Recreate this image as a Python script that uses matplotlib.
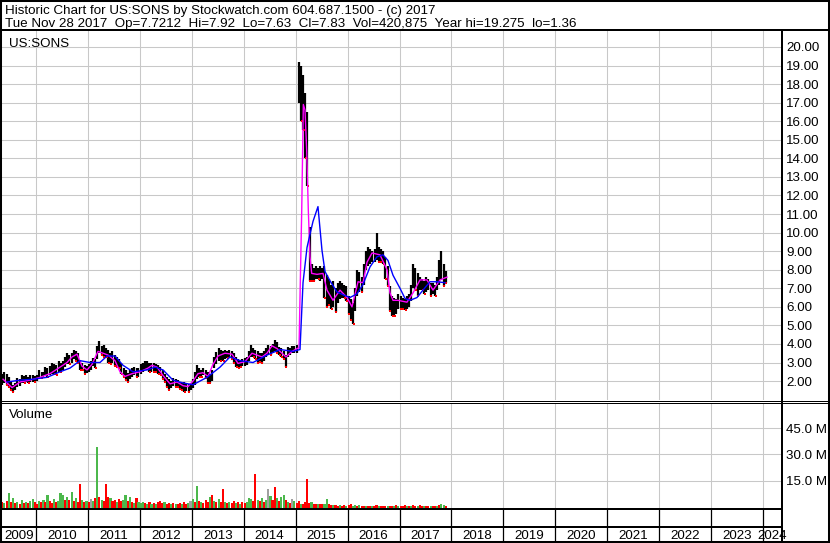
import matplotlib
matplotlib.use("Agg")
import matplotlib.pyplot as plt
from matplotlib.lines import Line2D
from matplotlib.patches import Rectangle
import numpy as np
import pandas as pd

plt.rcParams['font.family'] = ['Liberation Sans', 'DejaVu Sans']

# ---- values (semi-monthly bars from May 2009) ----
bar_start = '2009-05-01'

price_hi = [
    2.4, 2.5, 2.4, 2.2, 1.95, 1.8, 1.9, 2.15, 2.1, 2.3, 2.25, 2.3, 2.2, 2.3, 2.3, 2.25,  # 2009
    2.3, 2.6, 2.5, 2.5, 2.75, 2.7, 2.8, 2.95, 2.9, 2.85, 3.1, 3.0, 3.1, 3.3, 3.5, 3.4, 3.5, 3.7, 3.6, 3.5, 3.1, 3.0, 2.85, 2.8,  # 2010
    2.9, 3.1, 3.25, 3.2, 3.9, 4.15, 3.9, 3.95, 3.8, 3.65, 3.5, 3.6, 3.4, 3.3, 3.2, 2.95, 2.7, 2.6, 2.45, 2.6, 2.7, 2.75, 2.7, 2.7,  # 2011
    2.9, 3.0, 3.1, 3.1, 3.0, 3.0, 2.95, 2.9, 2.85, 2.75, 2.6, 2.4, 2.2, 2.1, 2.0, 2.15, 2.1, 2.05, 1.95, 1.9, 1.95, 1.9, 1.85, 1.9,  # 2012
    2.1, 2.5, 2.85, 2.7, 2.6, 2.7, 2.6, 2.5, 2.4, 2.6, 3.3, 3.55, 3.8, 3.7, 3.6, 3.7, 3.6, 3.7, 3.6, 3.5, 3.3, 3.2, 3.1, 3.2,  # 2013
    3.25, 3.3, 3.6, 3.95, 3.8, 3.7, 3.6, 3.5, 3.5, 3.6, 3.8, 3.95, 3.9, 4.0, 4.2, 4.1, 3.85, 3.8, 3.6, 3.4, 3.85, 3.8, 3.9, 3.9,  # 2014
    3.95, 19.2, 19.0, 18.5, 17.5, 16.5, 10.3, 8.3, 8.1, 8.2, 8.1, 8.2, 8.1, 8.2, 7.7, 7.5, 7.2, 7.4, 7.0, 7.3, 7.4, 7.3, 7.2, 7.1,  # 2015
    6.6, 6.4, 6.2, 7.0, 8.0, 7.9, 7.6, 8.3, 9.0, 9.2, 9.1, 9.0, 9.1, 10.0, 9.2, 9.1, 9.0, 8.7, 8.2, 7.1, 6.6, 6.5, 6.4, 6.7,  # 2016
    6.6, 6.5, 6.4, 6.6, 6.7, 7.2, 8.3, 8.1, 7.8, 7.6, 7.5, 7.4, 7.6, 7.5, 7.3, 7.3, 7.2, 7.6, 8.5, 9.0, 8.3, 7.95,  # 2017
]
price_lo = [
    1.8, 1.9, 1.8, 1.7, 1.5, 1.4, 1.5, 1.7, 1.75, 1.9, 1.9, 1.95, 1.9, 1.95, 1.95, 1.95,
    2.0, 2.1, 2.15, 2.2, 2.3, 2.2, 2.3, 2.4, 2.4, 2.3, 2.5, 2.5, 2.6, 2.75, 2.9, 2.9, 3.0, 3.2, 3.1, 3.0, 2.6, 2.6, 2.4, 2.45,
    2.5, 2.6, 2.8, 2.7, 3.2, 3.5, 3.4, 3.3, 3.3, 3.0, 2.9, 3.0, 2.8, 2.75, 2.7, 2.4, 2.2, 2.05, 1.95, 2.1, 2.2, 2.3, 2.2, 2.2,
    2.4, 2.5, 2.6, 2.6, 2.5, 2.5, 2.5, 2.5, 2.4, 2.3, 2.1, 1.95, 1.7, 1.5, 1.6, 1.75, 1.7, 1.7, 1.55, 1.5, 1.4, 1.45, 1.4, 1.5,
    1.6, 1.8, 2.1, 2.2, 2.2, 2.3, 2.15, 1.9, 1.9, 2.0, 2.7, 2.9, 3.1, 3.1, 3.1, 3.2, 3.25, 3.3, 3.2, 3.0, 2.75, 2.7, 2.75, 2.8,
    2.8, 2.85, 3.1, 3.3, 3.3, 3.2, 3.0, 3.05, 3.0, 3.1, 3.3, 3.4, 3.4, 3.5, 3.6, 3.5, 3.4, 3.3, 3.2, 2.75, 3.3, 3.4, 3.5, 3.5,
    3.5, 17.0, 16.0, 15.5, 14.0, 12.5, 7.4, 7.4, 7.4, 7.5, 7.5, 7.4, 7.5, 6.5, 6.0, 6.1, 5.9, 6.0, 5.7, 6.2, 6.4, 6.5, 6.5, 6.3,
    5.6, 5.3, 5.1, 5.8, 6.6, 6.8, 6.8, 7.2, 8.0, 8.2, 8.3, 8.4, 8.4, 8.5, 8.4, 8.4, 8.3, 7.5, 7.1, 5.8, 5.5, 5.5, 5.6, 5.9,
    5.9, 5.9, 5.85, 5.9, 6.0, 6.3, 7.0, 6.9, 6.6, 6.9, 6.9, 6.7, 6.8, 6.9, 6.6, 6.7, 6.6, 6.9, 7.2, 7.5, 7.1, 7.3,
]

# volume in millions, colour code: r = down, g = up, k = unchanged
vol_m = [
    3.0, 2.5, 3.5, 8.0, 3.0, 5.0, 2.5, 3.0, 2.0, 4.0, 2.5, 3.0, 2.5, 3.5, 4.5, 3.0,
    2.0, 3.5, 3.0, 4.0, 3.0, 6.8, 3.5, 2.5, 4.5, 3.0, 3.5, 8.0, 6.8, 4.0, 5.5, 4.0, 8.7, 3.5, 5.0, 3.0, 13.0, 4.0, 3.0, 3.5,
    3.0, 4.5, 3.5, 5.0, 34.0, 6.0, 4.0, 3.5, 13.0, 6.0, 5.0, 3.5, 4.0, 3.0, 4.5, 3.5, 4.0, 7.0, 3.5, 6.0, 3.0, 2.5, 5.0, 3.0,
    2.5, 3.0, 2.5, 2.0, 3.0, 2.0, 2.5, 2.0, 3.0, 3.5, 2.5, 3.0, 2.0, 2.5, 2.0, 2.5, 2.0, 1.5, 2.5, 2.0, 3.0, 2.0, 2.5, 3.5,
    4.5, 3.0, 12.0, 3.5, 3.0, 2.5, 4.0, 3.0, 5.5, 6.8, 3.5, 3.0, 4.5, 3.0, 10.3, 3.0, 2.5, 3.0, 2.5, 3.5, 2.5, 3.0, 2.0, 3.0,
    2.5, 3.0, 5.0, 4.5, 3.5, 18.8, 4.0, 3.5, 5.0, 3.0, 4.0, 10.3, 6.5, 4.0, 11.4, 5.0, 3.5, 6.0, 6.8, 4.0, 3.0, 2.5, 4.5, 3.5,
    2.5, 3.5, 2.0, 2.0, 3.0, 16.0, 2.5, 3.0, 2.0, 2.0, 1.5, 2.0, 1.5, 2.0, 4.5, 1.5, 1.2, 1.0, 1.0, 0.8, 1.0, 0.8, 1.0, 0.8,
    1.0, 1.5, 0.8, 1.0, 0.8, 1.2, 0.6, 0.8, 0.7, 0.6, 0.8, 0.5, 0.7, 0.9, 0.6, 0.5, 0.6, 0.7, 0.6, 0.5, 0.7, 0.8, 1.0, 0.6,
    0.8, 0.6, 0.9, 0.6, 0.7, 0.8, 1.0, 0.7, 0.6, 0.9, 0.6, 0.7, 0.5, 0.6, 0.7, 0.6, 0.5, 0.7, 1.0, 1.5, 1.0, 0.6,
]
vol_col = ("rgrgrgrgrgrgrggr"
           "rgrgrgrrgrgggrgrgrgrrgrg"
           "rkgrgrgrrrgrrgrrggrgrgrg"
           "ggrgrgrgrrrgrrgrgrrgrrgk"
           "grgrgrrrgrgrgrrgrgrrgrgr"
           "rgggrrgrgrgkgrrgrggrgrkg"
           "rrgrrrrgrrgrrggrrgrrgrrg"
           "rrggrgrrgrrgrrgrrrgrrgrg"
           "rrrgrgrrgrrgrrgrrgrggr")

# short moving average (magenta), read as points
fast_t = [2009.365, 2009.538, 2009.692, 2009.884, 2010.077, 2010.270, 2010.462, 2010.597, 2010.693, 2010.790,
          2010.886, 2010.982, 2011.078, 2011.194, 2011.290, 2011.387, 2011.521, 2011.618, 2011.714, 2011.849,
          2012.003, 2012.157, 2012.234, 2012.330, 2012.446, 2012.581, 2012.715, 2012.831, 2012.927, 2013.023,
          2013.120, 2013.216, 2013.312, 2013.408, 2013.505, 2013.639, 2013.774, 2013.890, 2014.025, 2014.159,
          2014.255, 2014.352, 2014.448, 2014.545, 2014.641, 2014.737, 2014.814, 2014.930, 2015.065, 2015.117,
          2015.148, 2015.180, 2015.213, 2015.244, 2015.276, 2015.309, 2015.411, 2015.527, 2015.604, 2015.719,
          2015.854, 2015.989, 2016.085, 2016.201, 2016.297, 2016.374, 2016.470, 2016.624, 2016.759, 2016.817,
          2016.875, 2016.971, 2017.144, 2017.260, 2017.395, 2017.529, 2017.645, 2017.780, 2017.915]
fast_v = [2.1, 1.65, 1.95, 2.05, 2.2, 2.4, 2.75, 3.0, 3.3, 3.45,
          2.8, 2.6, 2.9, 3.6, 3.5, 3.4, 3.1, 2.5, 2.25, 2.4,
          2.5, 2.7, 2.85, 2.75, 2.3, 1.85, 1.95, 1.75, 1.7, 2.0,
          2.4, 2.45, 2.25, 2.9, 3.35, 3.5, 3.45, 2.95, 3.05, 3.5,
          3.4, 3.3, 3.5, 3.9, 3.75, 3.5, 3.3, 3.6, 3.8, 11.2,
          16.9, 16.6, 14.4, 11.2, 8.7, 7.8, 7.75, 7.8, 6.9, 6.35,
          6.9, 6.5, 6.0, 7.35, 7.3, 8.4, 8.9, 8.8, 8.0, 6.75,
          6.35, 6.35, 6.25, 6.75, 7.45, 7.45, 6.9, 7.45, 7.6]

# long moving average (blue)
slow_t = [2009.442, 2009.692, 2009.942, 2010.212, 2010.462, 2010.655, 2010.847, 2011.040, 2011.232, 2011.367,
          2011.521, 2011.675, 2011.868, 2012.137, 2012.292, 2012.446, 2012.638, 2012.831, 2013.023, 2013.293,
          2013.543, 2013.736, 2013.928, 2014.179, 2014.448, 2014.699, 2014.949, 2015.084, 2015.142, 2015.219,
          2015.276, 2015.334, 2015.430, 2015.507, 2015.565, 2015.662, 2015.796, 2015.912, 2016.046, 2016.181,
          2016.297, 2016.432, 2016.567, 2016.682, 2016.778, 2016.875, 2017.009, 2017.106, 2017.202, 2017.337,
          2017.452, 2017.587, 2017.722, 2017.876]
slow_v = [1.95, 2.05, 2.1, 2.2, 2.5, 2.7, 3.1, 3.0, 3.0, 3.35,
          3.35, 2.85, 2.5, 2.6, 2.75, 2.6, 2.05, 1.9, 1.8, 2.2,
          2.75, 3.3, 3.1, 3.0, 3.4, 3.7, 3.6, 3.7, 7.3, 9.2,
          9.9, 10.6, 11.4, 9.05, 7.9, 7.4, 6.8, 6.65, 6.5, 6.7,
          7.2, 8.15, 8.7, 8.8, 8.5, 7.7, 7.0, 6.45, 6.35, 6.5,
          6.9, 7.35, 7.35, 7.3]

years = list(range(2009, 2025))
price_ticks = list(range(2, 21))
vol_ticks = [15, 30, 45]
ticker = "US:SONS"
header1 = "Historic Chart for US:SONS by Stockwatch.com 604.687.1500 - (c) 2017"
header2 = "Tue Nov 28 2017  Op=7.7212  Hi=7.92  Lo=7.63  Cl=7.83  Vol=420,875  Year hi=19.275  lo=1.36"

# ---- layout ----
W, H = 830, 543
t0, t1 = 2009.345, 2024.366      # visible time window
vol_floor, vol_top = -1.1, 59.3
grid_c = '#c8c8c8'
col_map = {'r': '#ff0000', 'g': '#4cb84c', 'k': '#a0a0a0'}
fs = 9.6

dates = pd.date_range(bar_start, periods=len(price_hi), freq='SMS')
t = np.asarray(dates.year + (dates.dayofyear - 1) / 365.25) + 1 / 48
hi = np.array(price_hi)
lo = np.array(price_lo)

fig = plt.figure(figsize=(W / 100, H / 100), dpi=100)


def box(x0, y0, x1, y1):
    return [x0 / W, 1 - y1 / H, (x1 - x0) / W, (y1 - y0) / H]


def fline(xs, ys, px=1):
    fig.add_artist(Line2D([x / W for x in xs], [1 - y / H for y in ys], color='black',
                          lw=px * 0.72, transform=fig.transFigure, solid_capstyle='butt'))


# price panel
axp = fig.add_axes(box(2, 31, 782, 400))
axp.set_xlim(t0, t1)
axp.set_ylim(0.98, 20.86)
axp.set_xticks(years[1:])
axp.set_yticks(price_ticks)
axp.set_yticklabels([f'{v:.2f}' for v in price_ticks])
axp.yaxis.tick_right()
axp.tick_params(axis='both', length=0, labelsize=fs, pad=3.2)
axp.tick_params(axis='x', labelbottom=False)
axp.grid(True, color=grid_c, lw=0.75)
axp.set_axisbelow(True)
for s in axp.spines.values():
    s.set_visible(False)

axp.vlines(t, lo, hi, color='black', lw=1.6)
down = np.r_[False, (hi + lo)[1:] < (hi + lo)[:-1]]
axp.scatter(t[down] + 1 / 96, lo[down], marker='s', s=3, color='red', lw=0, zorder=3)
axp.plot(fast_t, fast_v, color='#ff00ff', lw=1.0, zorder=4)
axp.plot(slow_t, slow_v, color='#0000ff', lw=1.0, zorder=5)

# volume panel
axv = fig.add_axes(box(2, 403, 782, 509))
axv.set_xlim(t0, t1)
axv.set_ylim(vol_floor, vol_top)
axv.set_xticks(years[1:])
axv.set_yticks(vol_ticks)
axv.set_yticklabels([f'{v:.1f} M' for v in vol_ticks])
axv.yaxis.tick_right()
axv.tick_params(axis='both', length=0, labelsize=fs, pad=3.2)
axv.tick_params(axis='x', labelbottom=False)
axv.grid(True, color=grid_c, lw=0.75)
axv.set_axisbelow(True)
for s in axv.spines.values():
    s.set_visible(False)
axv.bar(t, np.array(vol_m) - vol_floor, width=1 / 24, bottom=vol_floor,
        color=[col_map[c] for c in vol_col], lw=0)

# empty strip and year label row
for (ya, yb) in [(509, 527), (527, 541)]:
    ax = fig.add_axes(box(2, ya, 782, yb))
    ax.set_xlim(t0, t1)
    ax.set_ylim(0, 1)
    ax.axis('off')
    ax.vlines(years[1:], 0, 1, color='black', lw=0.9)
    if ya == 527:
        for y in years:
            a, b = max(y, t0), min(y + 1, t1)
            ax.text((a + b) / 2, 0.38, str(y), ha='center', va='center', fontsize=fs)

# texts
fig.text(5 / W, 1 - 14 / H, header1, fontsize=fs, va='baseline')
fig.text(5 / W, 1 - 27.5 / H, header2, fontsize=fs, va='baseline')
fig.text(9 / W, 1 - 47 / H, ticker, fontsize=fs, va='baseline')
fig.text(9 / W, 1 - 418 / H, "Volume", fontsize=fs, va='baseline')

# frame lines
fline([0, W], [30, 30], 2)
fline([782, 782], [30, 541], 2)
fline([0, W], [400.5, 400.5], 1)
fline([0, W], [402.5, 402.5], 1)
fline([0, 782], [509, 509], 2)
fline([0, 782], [527, 527], 2)
fig.add_artist(Rectangle((0, 0), 1, 1, transform=fig.transFigure, fill=False,
                         edgecolor='black', lw=2.9))

fig.savefig('out.png', dpi=100)
